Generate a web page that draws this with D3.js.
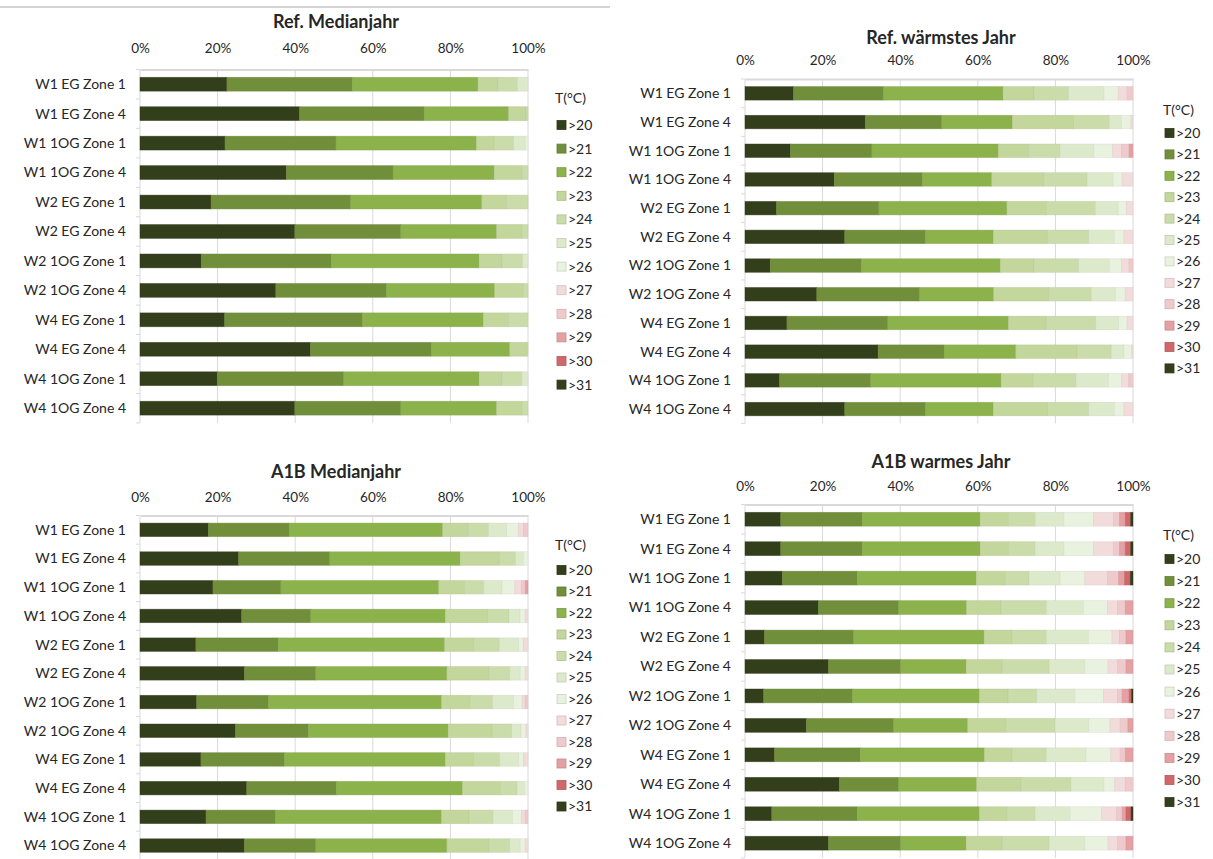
<!DOCTYPE html>
<html>
<head>
<meta charset="utf-8">
<style>
  body { margin: 0; background: #fff; }
  text { font-family: Lato, "Open Sans", sans-serif; fill: #262626; }
</style>
</head>
<body>
<svg id="chart" width="1213" height="859"></svg>
<script src="https://d3js.org/d3.v7.min.js"></script>
<script>
// row categories (same in all four charts)
var categories = ["W1 EG Zone 1", "W1 EG Zone 4", "W1 1OG Zone 1", "W1 1OG Zone 4",
                  "W2 EG Zone 1", "W2 EG Zone 4", "W2 1OG Zone 1", "W2 1OG Zone 4",
                  "W4 EG Zone 1", "W4 EG Zone 4", "W4 1OG Zone 1", "W4 1OG Zone 4"]
// temperature classes (legend)
var classes = [">20", ">21", ">22", ">23", ">24", ">25", ">26", ">27", ">28", ">29", ">30", ">31"]
var colors = ["#333f1b", "#718f3a", "#8cb24b", "#c3d69b", "#cadcaa", "#dde9cb",
              "#e9f1df", "#f2dcdb", "#efcacc", "#e3a1a4", "#d0686b", "#333f1b"]

// share of hours per class, one row per category (%)
var refMedian = [
  [22.4, 32.3, 32.4, 5.2, 5.0, 2.7],
  [41.1, 32.1, 21.8, 4.5, 0.5],
  [21.9, 28.6, 36.2, 4.6, 5.0, 3.0, 0.7],
  [37.7, 27.5, 26.1, 7.2, 1.5],
  [18.3, 36.0, 33.8, 6.4, 5.5],
  [39.9, 27.3, 24.7, 6.5, 1.6],
  [15.8, 33.5, 38.1, 5.9, 5.3, 1.4],
  [35.0, 28.5, 27.9, 7.4, 1.2],
  [21.8, 35.5, 31.2, 6.5, 5.0],
  [43.9, 31.1, 20.3, 4.5, 0.2],
  [19.9, 32.6, 34.9, 5.9, 5.1, 1.6],
  [39.9, 27.3, 24.7, 6.5, 1.6]
]
var refWarm = [
  [12.5, 23.2, 30.8, 8.0, 8.9, 9.1, 3.7, 2.3, 1.5],
  [31.0, 19.7, 18.2, 15.8, 9.2, 3.1, 2.5, 0.5],
  [11.7, 21.0, 32.6, 7.8, 8.1, 8.7, 4.8, 2.3, 2.0, 1.0],
  [23.0, 22.7, 17.9, 13.4, 11.2, 6.7, 2.3, 2.8],
  [8.1, 26.4, 33.0, 10.2, 12.6, 5.9, 2.1, 1.7],
  [25.7, 20.8, 17.5, 14.0, 10.6, 6.6, 2.5, 2.3],
  [6.5, 23.5, 35.8, 8.7, 11.5, 7.9, 3.1, 2.0, 1.0],
  [18.5, 26.5, 19.1, 14.2, 11.0, 6.2, 2.5, 2.0],
  [10.8, 26.0, 31.1, 9.7, 12.8, 5.9, 2.2, 1.5],
  [34.3, 17.0, 18.5, 15.8, 8.8, 3.3, 2.0, 0.3],
  [8.9, 23.5, 33.6, 8.2, 11.1, 8.4, 3.3, 1.9, 1.1],
  [25.7, 20.8, 17.5, 14.0, 10.6, 6.6, 2.5, 2.3]
]
var a1bMedian = [
  [17.6, 20.8, 39.6, 6.6, 5.2, 4.7, 3.0, 1.3, 1.2],
  [25.4, 23.5, 33.6, 10.1, 4.2, 2.0, 1.2],
  [18.8, 17.5, 40.7, 6.6, 5.0, 4.7, 3.3, 1.7, 1.0, 0.7],
  [26.2, 17.8, 34.7, 10.9, 5.5, 2.8, 1.4, 0.7],
  [14.4, 21.2, 42.9, 7.5, 6.6, 5.0, 1.2, 1.2],
  [26.9, 18.4, 33.8, 10.8, 5.4, 2.7, 1.3, 0.7],
  [14.6, 18.5, 44.6, 7.3, 5.9, 5.4, 2.2, 0.8, 0.7],
  [24.6, 18.8, 36.0, 11.3, 5.1, 2.4, 1.3, 0.5],
  [15.7, 21.5, 41.5, 7.3, 6.7, 4.9, 1.3, 1.1],
  [27.5, 23.1, 32.5, 9.8, 4.3, 1.9, 0.9],
  [17.0, 17.9, 42.8, 7.1, 6.2, 5.0, 2.3, 1.0, 0.7],
  [26.9, 18.4, 33.8, 10.8, 5.4, 2.7, 1.3, 0.7]
]
var a1bWarm = [
  [9.2, 21.0, 30.4, 7.3, 6.9, 7.4, 7.6, 5.2, 1.5, 1.5, 1.4, 0.6],
  [9.2, 21.0, 30.4, 7.3, 6.9, 7.4, 7.6, 5.2, 1.5, 1.5, 1.4, 0.6],
  [9.6, 19.3, 30.7, 7.5, 6.1, 8.0, 6.4, 5.8, 2.9, 1.5, 1.5, 0.7],
  [18.9, 20.7, 17.5, 8.9, 11.7, 9.5, 6.2, 2.6, 2.0, 2.0],
  [5.0, 23.0, 33.6, 7.2, 8.9, 10.8, 6.1, 1.9, 1.7, 1.8],
  [21.5, 18.6, 16.9, 9.3, 12.1, 9.2, 6.0, 2.4, 2.2, 1.8],
  [4.8, 22.9, 32.7, 7.4, 7.4, 9.8, 7.4, 3.6, 1.2, 1.8, 0.6, 0.4],
  [15.8, 22.5, 19.1, 9.8, 12.7, 8.7, 5.5, 2.6, 2.0, 1.3],
  [7.6, 22.1, 32.0, 7.1, 8.9, 10.2, 6.4, 2.4, 1.3, 2.0],
  [24.3, 15.3, 20.1, 11.4, 12.9, 8.5, 2.8, 2.7, 2.0],
  [6.9, 22.0, 31.5, 7.1, 7.3, 9.0, 8.1, 3.9, 1.4, 1.0, 1.3, 0.5],
  [21.5, 18.6, 16.9, 9.3, 12.1, 9.2, 6.0, 2.4, 2.2, 1.8]
]

var panels = [
  {title: "Ref. Medianjahr", data: refMedian, x0: 140, x1: 528, top: 69.5, step: 29.45, titleY: 22, tickY: 48, legX: 557, legTitleY: 98, legY: 125, legStep: 23.6},
  {title: "Ref. wärmstes Jahr", data: refWarm, x0: 745, x1: 1133, top: 79, step: 28.7, titleY: 38, tickY: 60, legX: 1165, legTitleY: 110, legY: 133, legStep: 21.4},
  {title: "A1B Medianjahr", data: a1bMedian, x0: 140, x1: 528, top: 515.5, step: 28.7, titleY: 472, tickY: 497, legX: 557, legTitleY: 545, legY: 570, legStep: 21.5},
  {title: "A1B warmes Jahr", data: a1bWarm, x0: 745, x1: 1133, top: 504.5, step: 29.45, titleY: 462, tickY: 486, legX: 1165, legTitleY: 535, legY: 559, legStep: 22.1}
]

var svg = d3.select("#chart")

// grey separator line at the very top left
svg.append("line")
    .attr("x1", 0).attr("x2", 610).attr("y1", 7).attr("y2", 7)
    .attr("stroke", "#d4d4d4").attr("stroke-width", 2)

var keys = d3.range(classes.length)
var stack = d3.stack()
              .keys(keys)
              .offset(d3.stackOffsetExpand)

panels.forEach(function(p){
    var rows = p.data.map(function(r){
        return keys.map(function(k){ return r[k] || 0 })
    })
    var xScale = d3.scaleLinear().domain([0, 1]).range([p.x0, p.x1])
    var yScale = d3.scaleBand()
                   .domain(categories)
                   .range([p.top, p.top + p.step * categories.length])
                   .paddingInner(0.53)
                   .paddingOuter(0.265)
    var g = svg.append("g")

    // gridlines
    g.append("g").selectAll("line")
        .data(xScale.ticks(5))
        .enter().append("line")
        .attr("x1", function(d){ return xScale(d) })
        .attr("x2", function(d){ return xScale(d) })
        .attr("y1", p.top)
        .attr("y2", p.top + p.step * categories.length)
        .attr("stroke", "#d9d9d9")

    // top axis
    var xAxis = d3.axisTop(xScale).ticks(5).tickFormat(d3.format(".0%")).tickSize(0).tickPadding(0)
    var ax = g.append("g")
        .attr("transform", "translate(0," + p.top + ")")
        .call(xAxis)
    ax.select(".domain").attr("stroke", "#d9d9d9").attr("stroke-width", 2)
    ax.selectAll("text")
        .attr("y", p.tickY - p.top)
        .attr("dy", "0.35em")
        .style("font-size", "13.5px")
        .style("font-family", "Lato, sans-serif")
        .attr("fill", "#404040")

    // category boundary ticks on the left
    g.append("g").selectAll("line")
        .data(d3.range(categories.length + 1))
        .enter().append("line")
        .attr("x1", p.x0 - 4).attr("x2", p.x0)
        .attr("y1", function(i){ return p.top + i * p.step })
        .attr("y2", function(i){ return p.top + i * p.step })
        .attr("stroke", "#d9d9d9")

    // row labels
    g.append("g").selectAll("text")
        .data(categories)
        .enter().append("text")
        .attr("x", p.x0 - 14)
        .attr("y", function(d){ return yScale(d) + yScale.bandwidth() / 2 })
        .attr("dy", "0.35em")
        .attr("text-anchor", "end")
        .style("font-size", "14px")
        .text(function(d){ return d })

    // stacked bars
    var series = stack(rows)
    g.append("g").selectAll("g")
        .data(series)
        .enter().append("g")
        .attr("fill", function(s){ return colors[s.key] })
        .attr("stroke", function(s){ return d3.color(colors[s.key]).darker(0.25) })
        .selectAll("rect")
        .data(function(s){ return s })
        .enter().append("rect")
        .attr("x", function(d){ return xScale(d[0]) })
        .attr("width", function(d){ return Math.max(0, xScale(d[1]) - xScale(d[0])) })
        .attr("y", function(d, i){ return yScale(categories[i]) })
        .attr("height", yScale.bandwidth())
        .attr("stroke-opacity", 0.6)
        .attr("stroke-width", 0.7)

    // title
    g.append("text")
        .attr("x", (p.x0 + p.x1) / 2 + 2)
        .attr("y", p.titleY)
        .attr("dy", "0.35em")
        .attr("text-anchor", "middle")
        .style("font-size", "18px")
        .style("font-weight", "bold")
        .text(p.title)

    // legend
    var leg = g.append("g")
    leg.append("text")
        .attr("x", p.legX - 2)
        .attr("y", p.legTitleY)
        .attr("dy", "0.35em")
        .style("font-size", "14px")
        .text("T(°C)")
    var items = leg.selectAll("g.item")
        .data(classes)
        .enter().append("g")
        .attr("class", "item")
        .attr("transform", function(d, i){ return "translate(" + p.legX + "," + (p.legY + i * p.legStep) + ")" })
    items.append("rect")
        .attr("x", 0).attr("y", -4.5)
        .attr("width", 9).attr("height", 9)
        .attr("fill", function(d, i){ return colors[i] })
        .attr("stroke", function(d, i){ return d3.color(colors[i]).darker(0.4) })
        .attr("stroke-width", 0.8)
    items.append("text")
        .attr("x", 11)
        .attr("dy", "0.35em")
        .style("font-size", "14px")
        .text(function(d){ return d })
})
</script>
</body>
</html>
